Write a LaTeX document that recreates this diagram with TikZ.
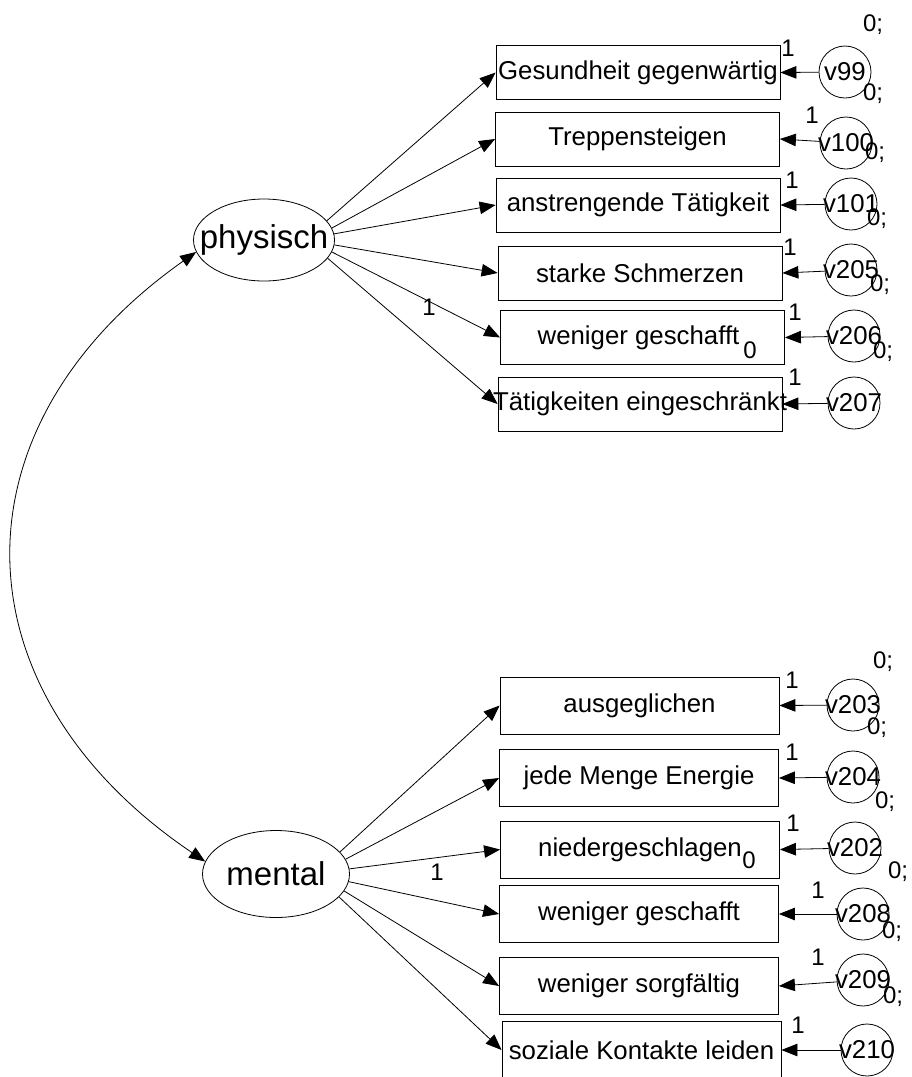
\documentclass[tikz,border=0pt]{standalone}
\usepackage{fontspec}
\setmainfont{Liberation Sans}
\usetikzlibrary{arrows.meta,shapes.geometric}
\begin{document}
\begin{tikzpicture}[x=1pt,y=-1pt,
  every node/.style={font=\fontsize{25.8}{30}\selectfont},
  obs/.style={draw, rectangle, minimum width=284pt, minimum height=54pt, inner sep=0pt, line width=0.8pt},
  obsm/.style={obs, minimum width=279pt, minimum height=57pt},
  err/.style={draw, circle, minimum size=52pt, inner sep=0pt, line width=0.8pt},
  lat/.style={draw, ellipse, inner sep=0pt, line width=0.8pt, font=\fontsize{33}{38}\selectfont},
  par/.style={inner sep=0pt, font=\fontsize{24}{28}\selectfont},
  arr/.style={-{Triangle[length=16pt,width=12.5pt]}, line width=0.8pt},
  darr/.style={{Triangle[length=16pt,width=12.5pt]}-{Triangle[length=16pt,width=12.5pt]}, line width=0.8pt}
]
\fill[white] (0,0) rectangle (912,1077);
\useasboundingbox (0,0) rectangle (912,1077);

% latent variables
\node[lat, minimum width=141pt, minimum height=82pt] (phys) at (264,240) {\makebox[0pt]{physisch}};
\node[lat, minimum width=147pt, minimum height=87pt] (ment) at (276,874) {\makebox[0pt]{mental}};

% observed (physisch)
\node[obs] (b1) at (638,72.5) {\makebox[0pt]{Gesundheit gegenwärtig}};
\node[obs] (b2) at (637.5,139) {\makebox[0pt]{Treppensteigen}};
\node[obs] (b3) at (638,205) {\makebox[0pt]{anstrengende Tätigkeit}};
\node[obs] (b4) at (640,273) {\makebox[0pt]{starke Schmerzen}};
\node[obs] (b5) at (642.5,337.5) {\makebox[0pt]{weniger geschafft\hspace*{8pt}}};
\node[obs] (b6) at (640,404) {\makebox[0pt]{Tätigkeiten eingeschränkt}};

% observed (mental)
\node[obsm] (b7) at (639.5,705.5) {\makebox[0pt]{ausgeglichen}};
\node[obsm] (b8) at (639,778) {\makebox[0pt]{jede Menge Energie}};
\node[obsm] (b9) at (640,849.5) {\makebox[0pt]{niedergeschlagen}};
\node[obsm] (b10) at (639,914) {\makebox[0pt]{weniger geschafft}};
\node[obsm] (b11) at (639,986) {\makebox[0pt]{weniger sorgfältig}};
\node[obsm] (b12) at (641.5,1050) {\makebox[0pt]{soziale Kontakte leiden}};

% errors
\node[err] (e1) at (845,72) {\makebox[0pt]{v99}};
\node[err] (e2) at (846,143) {\makebox[0pt]{v100}};
\node[err] (e3) at (851,204) {\makebox[0pt]{v101}};
\node[err] (e4) at (851,270) {\makebox[0pt]{v205}};
\node[err] (e5) at (854,336) {\makebox[0pt]{v206}};
\node[err] (e6) at (854,403) {\makebox[0pt]{v207}};
\node[err] (e7) at (853,705) {\makebox[0pt]{v203}};
\node[err] (e8) at (853,777) {\makebox[0pt]{v204}};
\node[err] (e9) at (855,848) {\makebox[0pt]{v202}};
\node[err] (e10) at (863,914) {\makebox[0pt]{v208}};
\node[err] (e11) at (863,980) {\makebox[0pt]{v209}};
\node[err] (e12) at (867,1050) {\makebox[0pt]{v210}};

% loadings
\draw[arr] (phys.17) -- (b1.west);
\draw[arr] (phys.10) -- (b2.west);
\draw[arr] (phys.5) -- (b3.west);
\draw[arr] (phys.-4) -- (b4.west);
\draw[arr] (phys.-10) -- (b5.west);
\draw[arr] (phys.-16.5) -- (b6.west);
\draw[arr] (ment.19) -- (b7.west);
\draw[arr] (ment.12) -- (b8.west);
\draw[arr] (ment.4) -- (b9.west);
\draw[arr] (ment.-6) -- (b10.west);
\draw[arr] (ment.-14) -- (b11.west);
\draw[arr] (ment.-20) -- (b12.west);

% error paths
\foreach \i in {1,...,12} { \draw[arr] (e\i) -- (b\i.east); }

% covariance
\coordinate (c1) at (-52,427);
\coordinate (c2) at (-47,691);
\draw[darr] (phys.190) .. controls (c1) and (c2) .. (ment.170);

% parameter labels
\node[par] (p1) at (429,307) {1};
\node[par] (p2) at (437,872) {1};
\node[par] (z1) at (750,350) {0};
\node[par] (z2) at (749,860) {0};

\node[par] (v1) at (873,25) {0;};
\node[par] (o1) at (788,48) {1};
\node[par] (v2) at (873,94) {0;};
\node[par] (o2) at (812,115) {1};
\node[par] (v3) at (875,153) {0;};
\node[par] (o3) at (792,180) {1};
\node[par] (v4) at (877,219) {0;};
\node[par] (o4) at (790,247) {1};
\node[par] (v5) at (880,285) {0;};
\node[par] (o5) at (795,312) {1};
\node[par] (v6) at (883,352) {0;};
\node[par] (o6) at (795,377) {1};

\node[par] (v7) at (883,662) {0;};
\node[par] (o7) at (792,680) {1};
\node[par] (v8) at (877,728) {0;};
\node[par] (o8) at (792,752) {1};
\node[par] (v9) at (885,802) {0;};
\node[par] (o9) at (793,823) {1};
\node[par] (v10) at (898,872) {0;};
\node[par] (o10) at (818,890) {1};
\node[par] (v11) at (892,932) {0;};
\node[par] (o11) at (818,957) {1};
\node[par] (v12) at (893,997) {0;};
\node[par] (o12) at (798,1025) {1};
\end{tikzpicture}
\end{document}
